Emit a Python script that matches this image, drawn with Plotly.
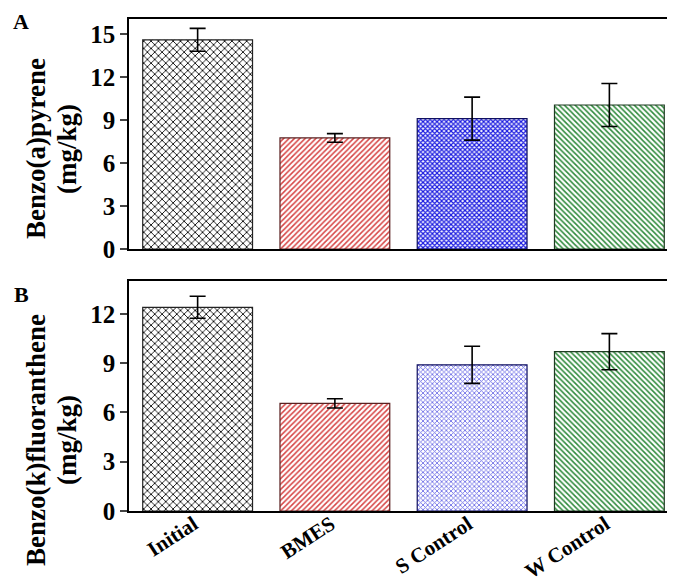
import plotly.graph_objects as go

categories = ["Initial", "BMES", "S Control", "W Control"]
bap_values = [14.6, 7.75, 9.1, 10.05]
bap_errors = [0.8, 0.3, 1.5, 1.5]
bkf_values = [12.4, 6.55, 8.9, 9.7]
bkf_errors = [0.67, 0.28, 1.13, 1.1]
y_ticks_a = [0, 3, 6, 9, 12, 15]
y_ticks_b = [0, 3, 6, 9, 12]
title_a = ["Benzo(a)pyrene", "(mg/kg)"]
title_b = ["Benzo(k)fluoranthene", "(mg/kg)"]

FONT = "Times New Roman, Liberation Serif, Tinos, serif"

fg_a = ["#000000", "#d64545", "#1c1ce0", "#2f8a3c"]
bg_a = ["#ffffff", "#fdeeee", "#e8e8ff", "#eef8ef"]
fg_b = ["#000000", "#d64545", "#6a6ae6", "#2f8a3c"]
bg_b = ["#ffffff", "#fdeeee", "#f0f0ff", "#eef8ef"]
shapes = ["x", "/", "x", "\\"]
sizes = [5.2, 3.8, 3.3, 3.8]
solid_a = [0.3, 0.4, 0.6, 0.42]
solid_b = [0.3, 0.4, 0.45, 0.42]
outline = ["#222222", "#5a2020", "#101060", "#1f3d22"]

fig = go.Figure()

def add_bars(values, errors, fg, bg, solid, xa, ya):
    fig.add_trace(go.Bar(
        x=categories, y=values, xaxis=xa, yaxis=ya, width=0.8,
        marker=dict(
            color=fg,
            line=dict(color=outline, width=1.2),
            pattern=dict(shape=shapes, fgcolor=fg, bgcolor=bg, size=sizes,
                         solidity=solid, fillmode="replace"),
        ),
        error_y=dict(type="data", array=errors, visible=True, color="black",
                     thickness=1.6, width=8),
        showlegend=False,
    ))

add_bars(bap_values, bap_errors, fg_a, bg_a, solid_a, "x", "y")
add_bars(bkf_values, bkf_errors, fg_b, bg_b, solid_b, "x2", "y2")

axis_line = dict(showline=True, linecolor="black", linewidth=1.6, mirror=True,
                 showgrid=False, zeroline=False, automargin=False)

fig.update_layout(
    width=675, height=583,
    margin=dict(l=121, r=5, t=0, b=0),
    paper_bgcolor="white", plot_bgcolor="white",
    font=dict(family=FONT, color="black"),
    bargap=0.2,
    xaxis=dict(domain=[0, 1], anchor="y", range=[-0.5, 3.5], showticklabels=False,
               ticks="", **axis_line),
    yaxis=dict(domain=[0.5866, 0.9811], anchor="x", range=[0, 16.05],
               tickvals=y_ticks_a, ticks="outside", ticklen=7, tickwidth=1.6,
               tickfont=dict(family=FONT, size=25, weight="bold"), **axis_line),
    xaxis2=dict(domain=[0, 1], anchor="y2", range=[-0.5, 3.5], ticks="",
                tickangle=-33, ticklabelstandoff=-9, ticklabelshift=-4,
                tickfont=dict(family=FONT, size=21, weight="bold"), **axis_line),
    yaxis2=dict(domain=[0.1372, 0.5317], anchor="x2", range=[0, 14.0],
                tickvals=y_ticks_b, ticks="outside", ticklen=7, tickwidth=1.6,
                tickfont=dict(family=FONT, size=25, weight="bold"), **axis_line),
)

ann_font = dict(family=FONT, size=27, color="black", weight="bold")
for lines, yc in ((title_a, 141), (title_b, 432)):
    for txt, xc in zip(lines, (28, 59)):
        fig.add_annotation(text=txt, xref="paper", yref="paper",
                           x=(xc - 121) / 549, y=(583 - yc) / 583, textangle=-90,
                           showarrow=False, font=ann_font,
                           xanchor="center", yanchor="middle")
fig.add_annotation(text="A", xref="paper", yref="paper",
                   x=(13 - 121) / 549, y=(583 - 14) / 583, showarrow=False,
                   font=dict(family=FONT, size=22, color="black", weight="bold"),
                   xanchor="center", yanchor="middle")
fig.add_annotation(text="B", xref="paper", yref="paper",
                   x=(13 - 121) / 549, y=(583 - 286) / 583, showarrow=False,
                   font=dict(family=FONT, size=22, color="black", weight="bold"),
                   xanchor="center", yanchor="middle")

fig.write_html("out.html")
